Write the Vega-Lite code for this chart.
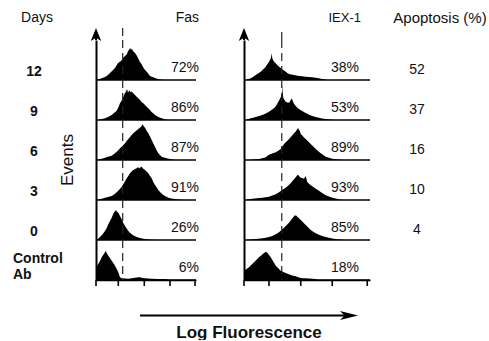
{
"$schema": "https://vega.github.io/schema/vega-lite/v6.json",
"padding": {"left": 13, "top": 11, "right": 0, "bottom": 0},
"config": {
  "font": "Liberation Sans",
  "view": {"stroke": null},
  "axis": {"grid": false, "labels": false, "ticks": false, "domainColor": "#000"},
  "axisY": {"domainWidth": 2},
  "axisX": {"domainWidth": 1.5},
  "text": {"font": "Liberation Sans", "fontSize": 14, "color": "#111"}
},
"bounds": "flush",
"spacing": 148,
"hconcat": [
{
  "data": {"values": [
    {"sample":"12","label":"72%"},{"sample":"9","label":"86%"},{"sample":"6","label":"87%"},{"sample":"3","label":"91%"},{"sample":"0","label":"26%"},{"sample":"Control Ab","label":"6%"},
    {"sample":"12","channel":0,"events":0},{"sample":"12","channel":20,"events":0.5},{"sample":"12","channel":50,"events":1.5},{"sample":"12","channel":90,"events":3},{"sample":"12","channel":120,"events":5},{"sample":"12","channel":160,"events":9},{"sample":"12","channel":190,"events":12},{"sample":"12","channel":220,"events":17},{"sample":"12","channel":250,"events":19},{"sample":"12","channel":270,"events":22},{"sample":"12","channel":290,"events":24},{"sample":"12","channel":310,"events":26},{"sample":"12","channel":320,"events":29},{"sample":"12","channel":330,"events":30},{"sample":"12","channel":340,"events":32},{"sample":"12","channel":350,"events":30.5},{"sample":"12","channel":360,"events":31},{"sample":"12","channel":370,"events":29},{"sample":"12","channel":390,"events":27},{"sample":"12","channel":410,"events":24},{"sample":"12","channel":425,"events":21},{"sample":"12","channel":440,"events":18},{"sample":"12","channel":455,"events":16},{"sample":"12","channel":470,"events":13},{"sample":"12","channel":490,"events":10},{"sample":"12","channel":510,"events":8},{"sample":"12","channel":525,"events":6},{"sample":"12","channel":540,"events":4},{"sample":"12","channel":565,"events":3},{"sample":"12","channel":590,"events":2},{"sample":"12","channel":620,"events":1},{"sample":"12","channel":640,"events":0.5},{"sample":"12","channel":680,"events":0},
    {"sample":"9","channel":23,"events":0},{"sample":"9","channel":50,"events":0.8},{"sample":"9","channel":90,"events":1.7},{"sample":"9","channel":120,"events":3},{"sample":"9","channel":157,"events":5},{"sample":"9","channel":180,"events":7},{"sample":"9","channel":207,"events":9.3},{"sample":"9","channel":225,"events":13},{"sample":"9","channel":240,"events":16.7},{"sample":"9","channel":260,"events":20},{"sample":"9","channel":273,"events":23},{"sample":"9","channel":285,"events":26},{"sample":"9","channel":297,"events":28},{"sample":"9","channel":305,"events":31},{"sample":"9","channel":310,"events":27},{"sample":"9","channel":317,"events":30.7},{"sample":"9","channel":325,"events":27.5},{"sample":"9","channel":333,"events":30},{"sample":"9","channel":340,"events":28},{"sample":"9","channel":355,"events":28.5},{"sample":"9","channel":373,"events":26.7},{"sample":"9","channel":390,"events":25},{"sample":"9","channel":407,"events":23.3},{"sample":"9","channel":425,"events":21.5},{"sample":"9","channel":440,"events":20},{"sample":"9","channel":455,"events":18},{"sample":"9","channel":473,"events":16.7},{"sample":"9","channel":490,"events":15},{"sample":"9","channel":507,"events":13.3},{"sample":"9","channel":525,"events":11.5},{"sample":"9","channel":540,"events":10},{"sample":"9","channel":555,"events":8},{"sample":"9","channel":573,"events":6.7},{"sample":"9","channel":590,"events":5},{"sample":"9","channel":607,"events":4},{"sample":"9","channel":630,"events":2.8},{"sample":"9","channel":657,"events":1.7},{"sample":"9","channel":680,"events":1},{"sample":"9","channel":707,"events":0.3},{"sample":"9","channel":757,"events":0},
    {"sample":"6","channel":7,"events":0},{"sample":"6","channel":40,"events":0.8},{"sample":"6","channel":90,"events":2.3},{"sample":"6","channel":120,"events":3.2},{"sample":"6","channel":157,"events":4.3},{"sample":"6","channel":180,"events":6},{"sample":"6","channel":207,"events":8.3},{"sample":"6","channel":225,"events":10},{"sample":"6","channel":240,"events":11.7},{"sample":"6","channel":265,"events":14},{"sample":"6","channel":290,"events":16.7},{"sample":"6","channel":307,"events":19},{"sample":"6","channel":323,"events":21},{"sample":"6","channel":340,"events":23},{"sample":"6","channel":357,"events":25},{"sample":"6","channel":375,"events":27},{"sample":"6","channel":390,"events":28.3},{"sample":"6","channel":405,"events":29.5},{"sample":"6","channel":423,"events":31},{"sample":"6","channel":435,"events":32},{"sample":"6","channel":450,"events":33.3},{"sample":"6","channel":460,"events":34.5},{"sample":"6","channel":467,"events":36},{"sample":"6","channel":475,"events":34},{"sample":"6","channel":490,"events":32.3},{"sample":"6","channel":505,"events":29.5},{"sample":"6","channel":523,"events":26.7},{"sample":"6","channel":540,"events":23.5},{"sample":"6","channel":557,"events":20},{"sample":"6","channel":573,"events":16.5},{"sample":"6","channel":590,"events":13.3},{"sample":"6","channel":605,"events":10},{"sample":"6","channel":623,"events":6.7},{"sample":"6","channel":640,"events":5},{"sample":"6","channel":657,"events":3.3},{"sample":"6","channel":680,"events":2.5},{"sample":"6","channel":707,"events":1.7},{"sample":"6","channel":740,"events":1},{"sample":"6","channel":773,"events":0.3},{"sample":"6","channel":800,"events":0},
    {"sample":"3","channel":7,"events":0},{"sample":"3","channel":40,"events":0.8},{"sample":"3","channel":90,"events":2.3},{"sample":"3","channel":120,"events":3},{"sample":"3","channel":157,"events":4},{"sample":"3","channel":180,"events":5.5},{"sample":"3","channel":207,"events":7.7},{"sample":"3","channel":230,"events":10},{"sample":"3","channel":257,"events":13.3},{"sample":"3","channel":280,"events":17},{"sample":"3","channel":307,"events":21.7},{"sample":"3","channel":323,"events":24},{"sample":"3","channel":340,"events":26.7},{"sample":"3","channel":355,"events":28.5},{"sample":"3","channel":373,"events":30},{"sample":"3","channel":390,"events":31},{"sample":"3","channel":407,"events":31.7},{"sample":"3","channel":420,"events":33},{"sample":"3","channel":430,"events":31.5},{"sample":"3","channel":440,"events":32.3},{"sample":"3","channel":455,"events":33.5},{"sample":"3","channel":470,"events":31.5},{"sample":"3","channel":490,"events":30},{"sample":"3","channel":505,"events":28.5},{"sample":"3","channel":523,"events":26.7},{"sample":"3","channel":540,"events":24},{"sample":"3","channel":557,"events":21.7},{"sample":"3","channel":573,"events":18},{"sample":"3","channel":590,"events":15},{"sample":"3","channel":607,"events":12.5},{"sample":"3","channel":623,"events":10},{"sample":"3","channel":645,"events":7.5},{"sample":"3","channel":673,"events":5},{"sample":"3","channel":700,"events":3.5},{"sample":"3","channel":723,"events":2.3},{"sample":"3","channel":755,"events":1.5},{"sample":"3","channel":790,"events":1},{"sample":"3","channel":820,"events":0.6},{"sample":"3","channel":857,"events":0.3},{"sample":"3","channel":880,"events":0},
    {"sample":"0","channel":7,"events":0},{"sample":"0","channel":30,"events":2},{"sample":"0","channel":57,"events":4.7},{"sample":"0","channel":75,"events":7},{"sample":"0","channel":90,"events":9},{"sample":"0","channel":107,"events":12},{"sample":"0","channel":123,"events":15.7},{"sample":"0","channel":140,"events":19},{"sample":"0","channel":157,"events":22.3},{"sample":"0","channel":170,"events":25.5},{"sample":"0","channel":183,"events":28},{"sample":"0","channel":192,"events":29},{"sample":"0","channel":200,"events":30},{"sample":"0","channel":208,"events":28.5},{"sample":"0","channel":223,"events":27.3},{"sample":"0","channel":240,"events":24},{"sample":"0","channel":257,"events":20.7},{"sample":"0","channel":273,"events":17},{"sample":"0","channel":290,"events":14},{"sample":"0","channel":307,"events":11.5},{"sample":"0","channel":323,"events":9},{"sample":"0","channel":340,"events":7.2},{"sample":"0","channel":357,"events":5.7},{"sample":"0","channel":380,"events":4.2},{"sample":"0","channel":407,"events":3},{"sample":"0","channel":440,"events":2},{"sample":"0","channel":473,"events":1.3},{"sample":"0","channel":510,"events":0.8},{"sample":"0","channel":557,"events":0.3},{"sample":"0","channel":600,"events":0},
    {"sample":"Control Ab","channel":0,"events":12.7},{"sample":"Control Ab","channel":23,"events":16},{"sample":"Control Ab","channel":40,"events":19},{"sample":"Control Ab","channel":57,"events":22.7},{"sample":"Control Ab","channel":75,"events":25.5},{"sample":"Control Ab","channel":90,"events":27.7},{"sample":"Control Ab","channel":97,"events":29.3},{"sample":"Control Ab","channel":110,"events":26.5},{"sample":"Control Ab","channel":123,"events":24.3},{"sample":"Control Ab","channel":140,"events":22},{"sample":"Control Ab","channel":157,"events":19.3},{"sample":"Control Ab","channel":173,"events":17},{"sample":"Control Ab","channel":190,"events":14.3},{"sample":"Control Ab","channel":207,"events":11},{"sample":"Control Ab","channel":223,"events":7.7},{"sample":"Control Ab","channel":240,"events":2.7},{"sample":"Control Ab","channel":257,"events":1.7},{"sample":"Control Ab","channel":290,"events":1.5},{"sample":"Control Ab","channel":323,"events":1.3},{"sample":"Control Ab","channel":360,"events":1.8},{"sample":"Control Ab","channel":390,"events":2.3},{"sample":"Control Ab","channel":420,"events":2.7},{"sample":"Control Ab","channel":440,"events":2.7},{"sample":"Control Ab","channel":465,"events":2},{"sample":"Control Ab","channel":490,"events":1.7},{"sample":"Control Ab","channel":520,"events":1.5},{"sample":"Control Ab","channel":557,"events":1.3},{"sample":"Control Ab","channel":620,"events":1.1},{"sample":"Control Ab","channel":690,"events":1},{"sample":"Control Ab","channel":723,"events":0.3},{"sample":"Control Ab","channel":730,"events":0}
  ]},
  "bounds": "flush",
  "spacing": {"row": 0},
  "facet": {"row": {"field": "sample", "type": "nominal", "sort": ["12","9","6","3","0","Control Ab"], "header": null}},
  "spec": {
    "width": 100, "height": 40,
    "layer": [
      {"transform": [{"filter": "datum.channel != null"}],
       "mark": {"type": "area", "color": "#000", "interpolate": "linear", "opacity": 1},
       "encoding": {
         "x": {"field": "channel", "type": "quantitative", "scale": {"domain": [0, 1000], "nice": false, "zero": false},
               "axis": {"title": "Log Fluorescence", "titleX": 152.5, "titleY": 52, "titleFontSize": 17, "titleFontWeight": "bold", "titleBaseline": "middle", "titleAlign": "center", "titleColor": "#111", "titleFont": "Liberation Sans"}},
         "y": {"field": "events", "type": "quantitative", "scale": {"domain": [0, 40], "nice": false}, "axis": {"title": null}}
       }},
      {"transform": [{"filter": "datum.label != null"}],
       "mark": {"type": "rule", "color": "#000", "strokeWidth": 1.5},
       "encoding": {"y": {"datum": 0}}},
      {"transform": [{"filter": "datum.label != null"}],
       "mark": {"type": "rule", "color": "#222", "strokeWidth": 1.2, "strokeDash": [8, 5]},
       "encoding": {"x": {"datum": 267}, "y": {"datum": 40}, "y2": {"datum": 0}}},
      {"transform": [{"filter": "datum.label != null && datum.sample == '12'"}],
       "mark": {"type": "rule", "color": "#222", "strokeWidth": 1.2, "strokeDash": [8, 5]},
       "encoding": {"x": {"datum": 267}, "y": {"datum": 52}, "y2": {"datum": 40}}},
      {"transform": [{"filter": "datum.label != null && datum.sample == '12'"}],
       "mark": {"type": "rule", "color": "#000", "strokeWidth": 2},
       "encoding": {"x": {"datum": 0}, "y": {"datum": 46}, "y2": {"datum": 40}}},
      {"transform": [{"filter": "datum.label != null && datum.sample == '12'"}],
       "mark": {"type": "point", "shape": "M0,-1L0.8,1L0,0.5L-0.8,1Z", "filled": true, "size": 169, "color": "#000", "opacity": 1},
       "encoding": {"x": {"datum": 0}, "y": {"datum": 45.5}}},
      {"transform": [{"filter": "datum.label != null && datum.sample == 'Control Ab'"}],
       "mark": {"type": "rule", "color": "#000", "strokeWidth": 1.6},
       "encoding": {"x": {"datum": 0}, "y": {"datum": 0}, "y2": {"datum": -6}}},
      {"transform": [{"filter": "datum.label != null && datum.sample == 'Control Ab'"}],
       "mark": {"type": "rule", "color": "#000", "strokeWidth": 1.6},
       "encoding": {"x": {"datum": 223}, "y": {"datum": 0}, "y2": {"datum": -6}}},
      {"transform": [{"filter": "datum.label != null && datum.sample == 'Control Ab'"}],
       "mark": {"type": "rule", "color": "#000", "strokeWidth": 1.6},
       "encoding": {"x": {"datum": 483}, "y": {"datum": 0}, "y2": {"datum": -6}}},
      {"transform": [{"filter": "datum.label != null && datum.sample == 'Control Ab'"}],
       "mark": {"type": "rule", "color": "#000", "strokeWidth": 1.6},
       "encoding": {"x": {"datum": 740}, "y": {"datum": 0}, "y2": {"datum": -6}}},
      {"transform": [{"filter": "datum.label != null && datum.sample == 'Control Ab'"}],
       "mark": {"type": "rule", "color": "#000", "strokeWidth": 1.6},
       "encoding": {"x": {"datum": 990}, "y": {"datum": 0}, "y2": {"datum": -6}}},
      {"transform": [{"filter": "datum.label != null"}],
       "mark": {"type": "text", "align": "right", "baseline": "middle"},
       "encoding": {"x": {"datum": 1030}, "y": {"datum": 12}, "text": {"field": "label"}}},
      {"transform": [{"filter": "datum.label != null && datum.sample != 'Control Ab'"}],
       "mark": {"type": "text", "align": "center", "baseline": "middle", "fontWeight": "bold"},
       "encoding": {"x": {"datum": -620}, "y": {"datum": 8}, "text": {"field": "sample"}}},
      {"transform": [{"filter": "datum.label != null && datum.sample == 'Control Ab'"}],
       "mark": {"type": "text", "align": "left", "baseline": "middle", "fontWeight": "bold", "lineBreak": " ", "lineHeight": 16},
       "encoding": {"x": {"datum": -830}, "y": {"datum": 21}, "text": {"field": "sample"}}},
      {"transform": [{"filter": "datum.label != null && datum.sample == '12'"}],
       "mark": {"type": "text", "text": "Days", "align": "center", "baseline": "middle"},
       "encoding": {"x": {"datum": -590}, "y": {"datum": 62}}},
      {"transform": [{"filter": "datum.label != null && datum.sample == '12'"}],
       "mark": {"type": "text", "text": "Fas", "align": "right", "baseline": "middle"},
       "encoding": {"x": {"datum": 1030}, "y": {"datum": 62}}},
      {"transform": [{"filter": "datum.label != null && datum.sample == '6'"}],
       "mark": {"type": "text", "text": "Events", "align": "center", "baseline": "middle", "angle": 270, "fontSize": 17},
       "encoding": {"x": {"datum": -280}, "y": {"datum": 0}}},
      {"transform": [{"filter": "datum.label != null && datum.sample == 'Control Ab'"}],
       "mark": {"type": "rule", "color": "#000", "strokeWidth": 1.8},
       "encoding": {"x": {"datum": 440}, "x2": {"datum": 2530}, "y": {"datum": -35.5}}},
      {"transform": [{"filter": "datum.label != null && datum.sample == 'Control Ab'"}],
       "mark": {"type": "point", "shape": "M1,0L-1,-0.5L-0.5,0L-1,0.5Z", "filled": true, "size": 324, "color": "#000", "opacity": 1},
       "encoding": {"x": {"datum": 2530}, "y": {"datum": -35.5}}}
    ]
  }
},
{
  "data": {"values": [
    {"sample":"12","label":"38%","apoptosis":"52"},{"sample":"9","label":"53%","apoptosis":"37"},{"sample":"6","label":"89%","apoptosis":"16"},{"sample":"3","label":"93%","apoptosis":"10"},{"sample":"0","label":"85%","apoptosis":"4"},{"sample":"Control Ab","label":"18%"},
    {"sample":"12","channel":14,"events":0},{"sample":"12","channel":32,"events":0.8},{"sample":"12","channel":54,"events":1.7},{"sample":"12","channel":72,"events":3},{"sample":"12","channel":94,"events":5},{"sample":"12","channel":112,"events":6.5},{"sample":"12","channel":134,"events":8.3},{"sample":"12","channel":152,"events":10.5},{"sample":"12","channel":174,"events":13.3},{"sample":"12","channel":188,"events":16},{"sample":"12","channel":200,"events":18.3},{"sample":"12","channel":208,"events":20},{"sample":"12","channel":214,"events":21.7},{"sample":"12","channel":218,"events":24},{"sample":"12","channel":222,"events":26.7},{"sample":"12","channel":226,"events":22},{"sample":"12","channel":232,"events":20},{"sample":"12","channel":242,"events":18},{"sample":"12","channel":254,"events":16.7},{"sample":"12","channel":266,"events":15},{"sample":"12","channel":280,"events":13.3},{"sample":"12","channel":294,"events":12},{"sample":"12","channel":306,"events":10.7},{"sample":"12","channel":320,"events":9.5},{"sample":"12","channel":334,"events":8.3},{"sample":"12","channel":346,"events":7},{"sample":"12","channel":360,"events":6},{"sample":"12","channel":380,"events":5.5},{"sample":"12","channel":400,"events":5},{"sample":"12","channel":420,"events":4.5},{"sample":"12","channel":440,"events":4},{"sample":"12","channel":464,"events":3.7},{"sample":"12","channel":494,"events":3.3},{"sample":"12","channel":520,"events":3},{"sample":"12","channel":546,"events":2.7},{"sample":"12","channel":574,"events":2.2},{"sample":"12","channel":600,"events":1.7},{"sample":"12","channel":624,"events":1.1},{"sample":"12","channel":640,"events":0.7},{"sample":"12","channel":666,"events":0},
    {"sample":"9","channel":14,"events":0},{"sample":"9","channel":32,"events":0.8},{"sample":"9","channel":54,"events":1.7},{"sample":"9","channel":72,"events":2.3},{"sample":"9","channel":94,"events":3},{"sample":"9","channel":120,"events":4},{"sample":"9","channel":146,"events":5},{"sample":"9","channel":174,"events":6.5},{"sample":"9","channel":200,"events":8.3},{"sample":"9","channel":220,"events":10},{"sample":"9","channel":240,"events":11.7},{"sample":"9","channel":256,"events":14},{"sample":"9","channel":266,"events":16.3},{"sample":"9","channel":276,"events":18.5},{"sample":"9","channel":286,"events":20.7},{"sample":"9","channel":294,"events":23},{"sample":"9","channel":302,"events":25.7},{"sample":"9","channel":304,"events":30},{"sample":"9","channel":306,"events":35},{"sample":"9","channel":309,"events":28},{"sample":"9","channel":314,"events":22.3},{"sample":"9","channel":324,"events":20},{"sample":"9","channel":334,"events":18.3},{"sample":"9","channel":346,"events":17.5},{"sample":"9","channel":360,"events":17.3},{"sample":"9","channel":372,"events":19.5},{"sample":"9","channel":382,"events":21.7},{"sample":"9","channel":390,"events":19},{"sample":"9","channel":400,"events":16.3},{"sample":"9","channel":414,"events":14},{"sample":"9","channel":426,"events":12.3},{"sample":"9","channel":446,"events":10.5},{"sample":"9","channel":466,"events":9},{"sample":"9","channel":486,"events":7.5},{"sample":"9","channel":506,"events":6.3},{"sample":"9","channel":526,"events":5},{"sample":"9","channel":546,"events":4},{"sample":"9","channel":574,"events":3},{"sample":"9","channel":600,"events":2.3},{"sample":"9","channel":624,"events":1.6},{"sample":"9","channel":654,"events":1},{"sample":"9","channel":680,"events":0.6},{"sample":"9","channel":706,"events":0.3},{"sample":"9","channel":728,"events":0},
    {"sample":"6","channel":40,"events":0},{"sample":"6","channel":66,"events":0.5},{"sample":"6","channel":94,"events":0.8},{"sample":"6","channel":120,"events":1},{"sample":"6","channel":146,"events":1.8},{"sample":"6","channel":174,"events":2.7},{"sample":"6","channel":186,"events":4},{"sample":"6","channel":200,"events":5.3},{"sample":"6","channel":226,"events":6.5},{"sample":"6","channel":254,"events":7.7},{"sample":"6","channel":274,"events":9.3},{"sample":"6","channel":294,"events":11},{"sample":"6","channel":306,"events":13.5},{"sample":"6","channel":320,"events":16},{"sample":"6","channel":340,"events":18.5},{"sample":"6","channel":360,"events":21},{"sample":"6","channel":380,"events":23.8},{"sample":"6","channel":400,"events":26.7},{"sample":"6","channel":414,"events":28.5},{"sample":"6","channel":426,"events":31},{"sample":"6","channel":434,"events":32},{"sample":"6","channel":440,"events":29.5},{"sample":"6","channel":445,"events":30},{"sample":"6","channel":454,"events":26},{"sample":"6","channel":466,"events":24.5},{"sample":"6","channel":480,"events":22.5},{"sample":"6","channel":494,"events":21},{"sample":"6","channel":514,"events":18.5},{"sample":"6","channel":534,"events":16},{"sample":"6","channel":554,"events":13.5},{"sample":"6","channel":574,"events":11},{"sample":"6","channel":594,"events":8.8},{"sample":"6","channel":614,"events":6.7},{"sample":"6","channel":634,"events":5},{"sample":"6","channel":654,"events":3.3},{"sample":"6","channel":680,"events":2.2},{"sample":"6","channel":706,"events":1.3},{"sample":"6","channel":736,"events":0.7},{"sample":"6","channel":774,"events":0.3},{"sample":"6","channel":792,"events":0},
    {"sample":"3","channel":14,"events":0},{"sample":"3","channel":40,"events":0.8},{"sample":"3","channel":66,"events":1.3},{"sample":"3","channel":104,"events":1.8},{"sample":"3","channel":146,"events":2.3},{"sample":"3","channel":174,"events":2.8},{"sample":"3","channel":200,"events":3.3},{"sample":"3","channel":226,"events":4.5},{"sample":"3","channel":254,"events":5.7},{"sample":"3","channel":274,"events":7.3},{"sample":"3","channel":294,"events":9},{"sample":"3","channel":314,"events":10.7},{"sample":"3","channel":334,"events":12.3},{"sample":"3","channel":354,"events":14.5},{"sample":"3","channel":374,"events":16.7},{"sample":"3","channel":386,"events":18.7},{"sample":"3","channel":400,"events":20.7},{"sample":"3","channel":414,"events":22.7},{"sample":"3","channel":426,"events":24.7},{"sample":"3","channel":434,"events":25.3},{"sample":"3","channel":440,"events":24},{"sample":"3","channel":454,"events":22.3},{"sample":"3","channel":466,"events":22},{"sample":"3","channel":480,"events":21.3},{"sample":"3","channel":494,"events":24},{"sample":"3","channel":500,"events":21},{"sample":"3","channel":506,"events":18},{"sample":"3","channel":520,"events":16.3},{"sample":"3","channel":534,"events":14.7},{"sample":"3","channel":554,"events":13},{"sample":"3","channel":574,"events":11.3},{"sample":"3","channel":594,"events":9.7},{"sample":"3","channel":614,"events":8},{"sample":"3","channel":634,"events":6.3},{"sample":"3","channel":654,"events":4.7},{"sample":"3","channel":680,"events":3.5},{"sample":"3","channel":706,"events":2.3},{"sample":"3","channel":734,"events":1.5},{"sample":"3","channel":760,"events":0.7},{"sample":"3","channel":784,"events":0},
    {"sample":"0","channel":14,"events":0},{"sample":"0","channel":54,"events":0.6},{"sample":"0","channel":94,"events":1},{"sample":"0","channel":134,"events":1.6},{"sample":"0","channel":174,"events":2.3},{"sample":"0","channel":200,"events":3},{"sample":"0","channel":226,"events":4},{"sample":"0","channel":254,"events":5.8},{"sample":"0","channel":280,"events":7.7},{"sample":"0","channel":300,"events":10},{"sample":"0","channel":320,"events":12.3},{"sample":"0","channel":340,"events":14.8},{"sample":"0","channel":360,"events":17.3},{"sample":"0","channel":374,"events":19.5},{"sample":"0","channel":386,"events":21.7},{"sample":"0","channel":396,"events":23},{"sample":"0","channel":402,"events":24},{"sample":"0","channel":408,"events":25},{"sample":"0","channel":414,"events":24},{"sample":"0","channel":418,"events":24.5},{"sample":"0","channel":426,"events":23.3},{"sample":"0","channel":440,"events":21.7},{"sample":"0","channel":454,"events":20},{"sample":"0","channel":474,"events":17.5},{"sample":"0","channel":494,"events":15},{"sample":"0","channel":514,"events":12.5},{"sample":"0","channel":534,"events":10},{"sample":"0","channel":554,"events":8.3},{"sample":"0","channel":574,"events":6.7},{"sample":"0","channel":600,"events":5.3},{"sample":"0","channel":626,"events":4},{"sample":"0","channel":654,"events":3.1},{"sample":"0","channel":680,"events":2.3},{"sample":"0","channel":706,"events":1.6},{"sample":"0","channel":734,"events":1},{"sample":"0","channel":760,"events":0.6},{"sample":"0","channel":786,"events":0.3},{"sample":"0","channel":808,"events":0},
    {"sample":"Control Ab","channel":0,"events":9.3},{"sample":"Control Ab","channel":20,"events":11},{"sample":"Control Ab","channel":40,"events":12.7},{"sample":"Control Ab","channel":60,"events":15.2},{"sample":"Control Ab","channel":80,"events":17.7},{"sample":"Control Ab","channel":100,"events":20.2},{"sample":"Control Ab","channel":120,"events":22.7},{"sample":"Control Ab","channel":140,"events":24.8},{"sample":"Control Ab","channel":160,"events":27},{"sample":"Control Ab","channel":170,"events":27.7},{"sample":"Control Ab","channel":178,"events":28.3},{"sample":"Control Ab","channel":188,"events":27},{"sample":"Control Ab","channel":200,"events":25},{"sample":"Control Ab","channel":214,"events":22.7},{"sample":"Control Ab","channel":226,"events":20.3},{"sample":"Control Ab","channel":240,"events":17.3},{"sample":"Control Ab","channel":254,"events":14.3},{"sample":"Control Ab","channel":274,"events":11.8},{"sample":"Control Ab","channel":294,"events":9.3},{"sample":"Control Ab","channel":314,"events":8.1},{"sample":"Control Ab","channel":334,"events":7},{"sample":"Control Ab","channel":354,"events":6},{"sample":"Control Ab","channel":374,"events":5},{"sample":"Control Ab","channel":394,"events":4.3},{"sample":"Control Ab","channel":414,"events":3.7},{"sample":"Control Ab","channel":434,"events":2.8},{"sample":"Control Ab","channel":454,"events":2},{"sample":"Control Ab","channel":474,"events":1.8},{"sample":"Control Ab","channel":494,"events":1.7},{"sample":"Control Ab","channel":520,"events":1.5},{"sample":"Control Ab","channel":546,"events":1.3},{"sample":"Control Ab","channel":574,"events":1},{"sample":"Control Ab","channel":586,"events":0}
  ]},
  "bounds": "flush",
  "spacing": {"row": 0},
  "facet": {"row": {"field": "sample", "type": "nominal", "sort": ["12","9","6","3","0","Control Ab"], "header": null}},
  "spec": {
    "width": 126, "height": 40,
    "layer": [
      {"transform": [{"filter": "datum.channel != null"}],
       "mark": {"type": "area", "color": "#000", "interpolate": "linear", "opacity": 1},
       "encoding": {
         "x": {"field": "channel", "type": "quantitative", "scale": {"domain": [0, 1008], "nice": false, "zero": false}, "axis": {"title": null}},
         "y": {"field": "events", "type": "quantitative", "scale": {"domain": [0, 40], "nice": false}, "axis": {"title": null}}
       }},
      {"transform": [{"filter": "datum.label != null"}],
       "mark": {"type": "rule", "color": "#000", "strokeWidth": 1.5},
       "encoding": {"y": {"datum": 0}}},
      {"transform": [{"filter": "datum.label != null"}],
       "mark": {"type": "rule", "color": "#222", "strokeWidth": 1.2, "strokeDash": [8, 5]},
       "encoding": {"x": {"datum": 302}, "y": {"datum": 40}, "y2": {"datum": 0}}},
      {"transform": [{"filter": "datum.label != null && datum.sample == '12'"}],
       "mark": {"type": "rule", "color": "#222", "strokeWidth": 1.2, "strokeDash": [8, 5]},
       "encoding": {"x": {"datum": 302}, "y": {"datum": 48}, "y2": {"datum": 40}}},
      {"transform": [{"filter": "datum.label != null && datum.sample == '12'"}],
       "mark": {"type": "rule", "color": "#000", "strokeWidth": 2},
       "encoding": {"x": {"datum": 0}, "y": {"datum": 46}, "y2": {"datum": 40}}},
      {"transform": [{"filter": "datum.label != null && datum.sample == '12'"}],
       "mark": {"type": "point", "shape": "M0,-1L0.8,1L0,0.5L-0.8,1Z", "filled": true, "size": 169, "color": "#000", "opacity": 1},
       "encoding": {"x": {"datum": 0}, "y": {"datum": 45.5}}},
      {"transform": [{"filter": "datum.label != null && datum.sample == 'Control Ab'"}],
       "mark": {"type": "rule", "color": "#000", "strokeWidth": 1.6},
       "encoding": {"x": {"datum": 0}, "y": {"datum": 0}, "y2": {"datum": -6}}},
      {"transform": [{"filter": "datum.label != null && datum.sample == 'Control Ab'"}],
       "mark": {"type": "rule", "color": "#000", "strokeWidth": 1.6},
       "encoding": {"x": {"datum": 200}, "y": {"datum": 0}, "y2": {"datum": -6}}},
      {"transform": [{"filter": "datum.label != null && datum.sample == 'Control Ab'"}],
       "mark": {"type": "rule", "color": "#000", "strokeWidth": 1.6},
       "encoding": {"x": {"datum": 454}, "y": {"datum": 0}, "y2": {"datum": -6}}},
      {"transform": [{"filter": "datum.label != null && datum.sample == 'Control Ab'"}],
       "mark": {"type": "rule", "color": "#000", "strokeWidth": 1.6},
       "encoding": {"x": {"datum": 706}, "y": {"datum": 0}, "y2": {"datum": -6}}},
      {"transform": [{"filter": "datum.label != null && datum.sample == 'Control Ab'"}],
       "mark": {"type": "rule", "color": "#000", "strokeWidth": 1.6},
       "encoding": {"x": {"datum": 986}, "y": {"datum": 0}, "y2": {"datum": -6}}},
      {"transform": [{"filter": "datum.label != null"}],
       "mark": {"type": "text", "align": "right", "baseline": "middle"},
       "encoding": {"x": {"datum": 920}, "y": {"datum": 12}, "text": {"field": "label"}}},
      {"transform": [{"filter": "datum.apoptosis != null"}],
       "mark": {"type": "text", "align": "center", "baseline": "middle"},
       "encoding": {"x": {"datum": 1384}, "y": {"datum": 10}, "text": {"field": "apoptosis"}}},
      {"transform": [{"filter": "datum.label != null && datum.sample == '12'"}],
       "mark": {"type": "text", "text": "IEX-1", "align": "right", "baseline": "middle", "fontSize": 13},
       "encoding": {"x": {"datum": 936}, "y": {"datum": 62}}},
      {"transform": [{"filter": "datum.label != null && datum.sample == '12'"}],
       "mark": {"type": "text", "text": "Apoptosis (%)", "align": "center", "baseline": "middle", "fontSize": 15},
       "encoding": {"x": {"datum": 1568}, "y": {"datum": 62}}}
    ]
  }
}
]
}
